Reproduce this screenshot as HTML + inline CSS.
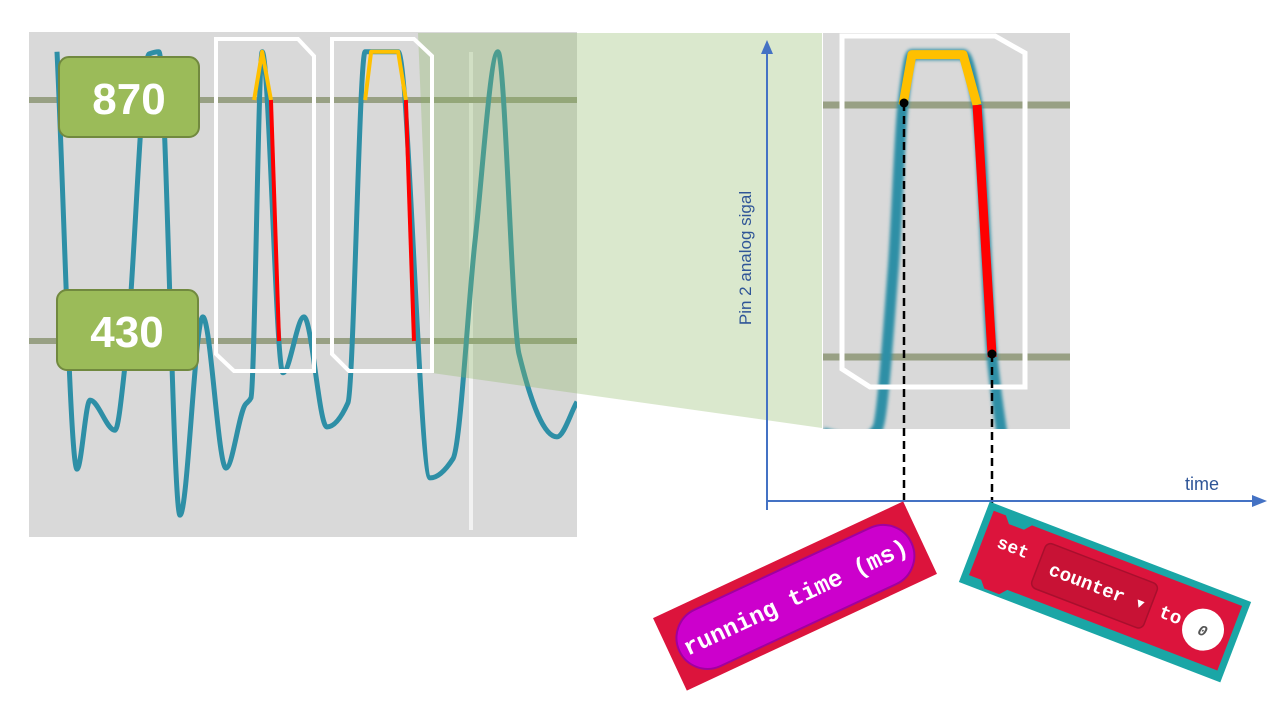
<!DOCTYPE html>
<html><head><meta charset="utf-8">
<style>
html,body{margin:0;padding:0;background:#fff;width:1280px;height:720px;overflow:hidden}
svg{display:block}
text{font-family:"Liberation Sans",sans-serif}
.mono{font-family:"Liberation Mono",monospace;font-weight:bold}
</style></head>
<body>
<svg width="1280" height="720" viewBox="0 0 1280 720">
<defs>
<filter id="blur" x="-10%" y="-10%" width="120%" height="120%"><feGaussianBlur stdDeviation="1.6"/></filter>
<clipPath id="leftClip"><rect x="29" y="32" width="548" height="505"/></clipPath>
<clipPath id="rightClip"><rect x="823" y="33" width="247" height="396"/></clipPath>
</defs>
<rect x="29" y="32" width="548" height="505" fill="#d9d9d9"/>
<line x1="471" y1="52" x2="471" y2="530" stroke="#f2f2f2" stroke-width="4"/>
<g id="leftGrid"></g>
<g id="leftSignal" clip-path="url(#leftClip)"></g>
<polygon points="418,33 822,33 822,428 432,373" fill="rgba(140,185,100,0.32)"/>
<g id="leftHighlight"></g>
<path d="M216,39 L298,39 L314,56 L314,371 L234,371 L216,354 Z" fill="none" stroke="#fff" stroke-width="4"/>
<path d="M332,39 L414,39 L432,56 L432,371 L349,371 L332,354 Z" fill="none" stroke="#fff" stroke-width="4"/>
<g>
<rect x="59" y="57" width="140" height="80" rx="10" fill="#9bbb59" stroke="#71893f" stroke-width="2"/>
<text x="129" y="114" text-anchor="middle" fill="#fff" font-size="44" font-weight="bold">870</text></g>
<g>
<rect x="57" y="290" width="141" height="80" rx="10" fill="#9bbb59" stroke="#71893f" stroke-width="2"/>
<text x="127" y="347" text-anchor="middle" fill="#fff" font-size="44" font-weight="bold">430</text></g>

<rect x="823" y="33" width="247" height="396" fill="#d9d9d9"/>
<g id="rightGrid"></g>
<g id="rightSignal" clip-path="url(#rightClip)"></g>
<path d="M842,36 L995,36 L1025,53 L1025,387 L870,387 L842,369 Z" fill="none" stroke="#fff" stroke-width="5"/>
<g id="rightHighlight"></g>
<line x1="904" y1="103" x2="904" y2="512" stroke="#000" stroke-width="2.5" stroke-dasharray="8,5"/>
<line x1="992" y1="354" x2="992" y2="515" stroke="#000" stroke-width="2.5" stroke-dasharray="8,5"/>
<circle cx="904" cy="103" r="4.5" fill="#000"/>
<circle cx="992" cy="354" r="4.5" fill="#000"/>

<g>
<line x1="767" y1="510" x2="767" y2="52" stroke="#4472c4" stroke-width="2"/>
<polygon points="767,40 761,54 773,54" fill="#4472c4"/></g>
<g>
<line x1="767" y1="501" x2="1254" y2="501" stroke="#4472c4" stroke-width="2"/>
<polygon points="1267,501 1252,495 1252,507" fill="#4472c4"/></g>
<text x="1185" y="490" fill="#2f5597" font-size="18">time</text>
<text transform="translate(751,258) rotate(-90)" text-anchor="middle" fill="#2f5597" font-size="17">Pin 2 analog sigal</text>

<g transform="translate(795,596) rotate(-25)">
<rect x="-138" y="-40" width="276" height="80" fill="#dc143c"/>
<rect x="-128" y="-30" width="256" height="62" rx="31" fill="#cc00cc" stroke="#a0009f" stroke-width="2"/>
<text class="mono" x="0" y="9" text-anchor="middle" fill="#fff" font-size="24">running time (ms)</text></g>

<g transform="translate(1105,592) rotate(21)">
<rect x="-140" y="-43" width="280" height="86" fill="#1aa6a6"/>
<path d="M-133,-36 L-120,-36 L-114,-29 L-98,-29 L-92,-36 L133,-36 L133,33 L-92,33 L-98,40 L-114,40 L-120,33 L-133,33 Z" fill="#dc143c"/>
<text class="mono" x="-118" y="-3" fill="#fff" font-size="18">set</text>
<rect x="-72" y="-26" width="120" height="48" rx="6" fill="#c81235" stroke="#a80f2d" stroke-width="1.5"/>
<text class="mono" x="-60" y="4" fill="#fff" font-size="19">counter ▾</text>
<text class="mono" x="58" y="4" fill="#fff" font-size="19">to</text>
<circle cx="105" cy="0" r="21" fill="#fff"/>
<text class="mono" x="105" y="6" text-anchor="middle" fill="#555" font-size="15" font-style="italic">0</text></g>
</svg>
<script>
const NS='http://www.w3.org/2000/svg';
// left signal data (t = time units, v = analog reading)
const leftT=[0,5.7,9.4,16.5,19.6,26.2,29.0,35.0,41.5,48.1,53.5,55.2,58.4,64.3,70.3,76.8,82.8,87.7,97.1,106.2,112.7,119.0,125.5,131.5,142.3,148];
const leftV=[958,196,322,267,399,954,958,112,474,198,313,326,958,372,474,273,317,958,958,180,215,614,958,406,255,319];
const thresholds=[870,430];
const hl1T=[56.1,58.4,60.9,63.2];
const hl1V=[870,958,870,430];
const hl2T=[87.7,89.4,97.1,99.3,101.6];
const hl2V=[870,958,958,870,430];
const rightT=[0,14.0,20.4,26.5,30.2,33.6,52.9,58.2,63.9,68];
const rightV=[297,283,304,583,870,958,958,870,430,281];
function lx(t){return 57+t*(577-57)/148;}
function ly(v){return 341-(v-430)*(341-100)/(870-430);}
function rx(t){return 823+t*(1003-823)/68;}
function ry(v){return 357-(v-430)*(357-105)/(870-430);}
function smooth(xs,ys){
  const n=xs.length,d=[],m=[];
  for(let i=0;i<n-1;i++)d.push((ys[i+1]-ys[i])/(xs[i+1]-xs[i]));
  m[0]=d[0];m[n-1]=d[n-2];
  for(let i=1;i<n-1;i++){
    if(d[i-1]*d[i]<=0)m[i]=0;
    else{const h0=xs[i]-xs[i-1],h1=xs[i+1]-xs[i];const w1=2*h1+h0,w2=h1+2*h0;m[i]=(w1+w2)/(w1/d[i-1]+w2/d[i]);}
  }
  let p='M'+xs[0]+','+ys[0];
  for(let i=0;i<n-1;i++){
    const h=(xs[i+1]-xs[i])/3;
    p+=' C'+(xs[i]+h)+','+(ys[i]+m[i]*h)+' '+(xs[i+1]-h)+','+(ys[i+1]-m[i+1]*h)+' '+xs[i+1]+','+ys[i+1];
  }
  return p;
}
function mk(tag,attrs,parent){const e=document.createElementNS(NS,tag);for(const k in attrs)e.setAttribute(k,attrs[k]);parent.appendChild(e);return e;}
const lg=document.getElementById('leftGrid');
thresholds.forEach(v=>{
  const l=mk('line',{x1:29,x2:577,y1:ly(v),y2:ly(v),stroke:'#98a084','stroke-width':6},lg);
  
  
});
const rg=document.getElementById('rightGrid');
thresholds.forEach(v=>{
  const l=mk('line',{x1:823,x2:1070,y1:ry(v),y2:ry(v),stroke:'#98a084','stroke-width':7},rg);
  
  
});
const ls=mk('path',{d:smooth(leftT.map(lx),leftV.map(ly)),fill:'none',stroke:'#2e8fa6','stroke-width':5,'stroke-linejoin':'round'},document.getElementById('leftSignal'));


function hl(ts,vs,fx,fy,g,w,name){
  const n=ts.length-1;
  const y=mk('polyline',{points:ts.slice(0,n).map((t,i)=>fx(t)+','+fy(vs[i])).join(' '),fill:'none',stroke:'#ffc000','stroke-width':w,'stroke-linejoin':'round','stroke-linecap':'butt'},g);
  
  
  const r=mk('line',{x1:fx(ts[n-1]),y1:fy(vs[n-1]),x2:fx(ts[n]),y2:fy(vs[n]),stroke:'#ff0000','stroke-width':w},g);
  
  
}
hl(hl1T,hl1V,lx,ly,document.getElementById('leftHighlight'),4,'peak-1');
hl(hl2T,hl2V,lx,ly,document.getElementById('leftHighlight'),4,'peak-2');
const rs=mk('path',{d:smooth(rightT.map(rx),rightV.map(ry)),fill:'none',stroke:'#2e8fa6','stroke-width':11,'stroke-linejoin':'round',filter:'url(#blur)'},document.getElementById('rightSignal'));


hl(rightT.slice(4,9),rightV.slice(4,9),rx,ry,document.getElementById('rightHighlight'),9,'zoomed-peak');
</script>
</body></html>
